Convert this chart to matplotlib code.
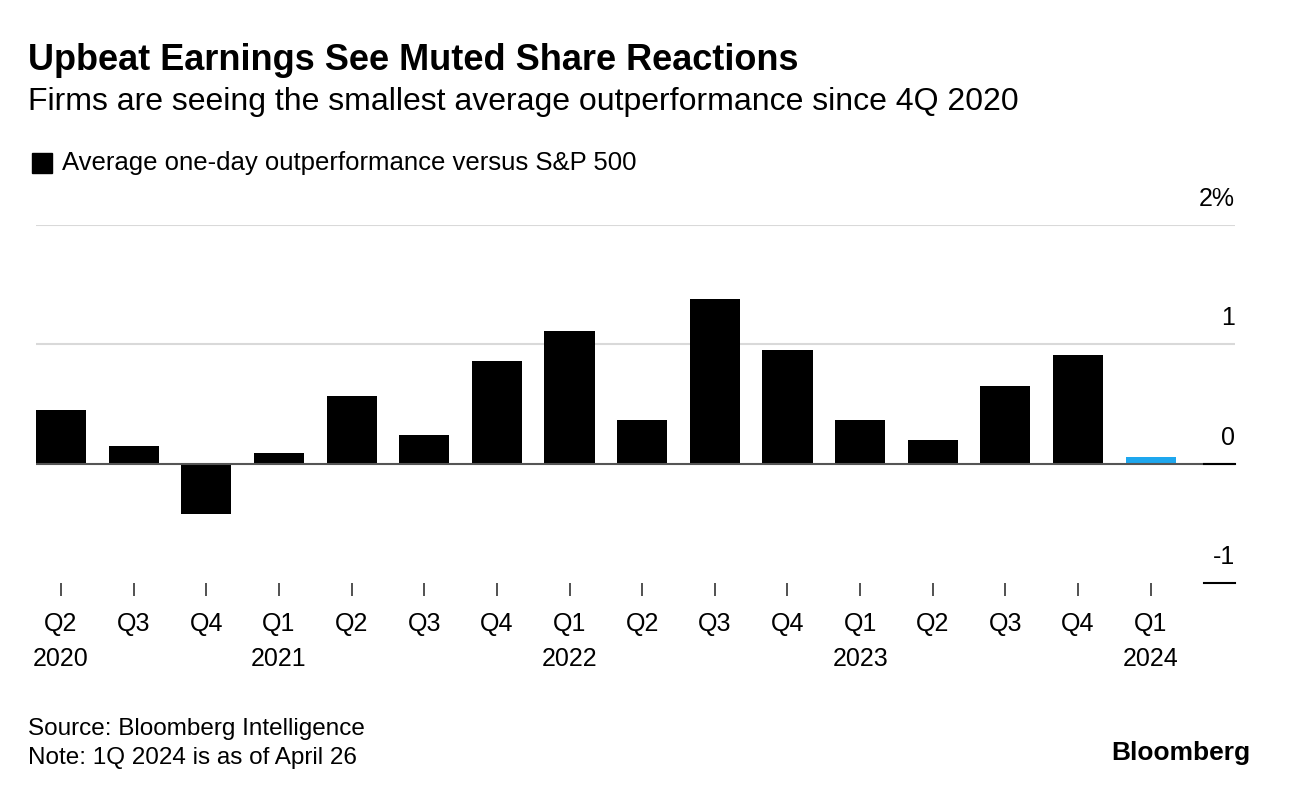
import numpy as np
import matplotlib.pyplot as plt
from matplotlib.patches import Rectangle

plt.rcParams['font.family'] = ['Liberation Sans', 'DejaVu Sans']

# data (percent)
quarters = ['Q2', 'Q3', 'Q4', 'Q1', 'Q2', 'Q3', 'Q4', 'Q1', 'Q2', 'Q3', 'Q4',
            'Q1', 'Q2', 'Q3', 'Q4', 'Q1']
years = ['2020', '', '', '2021', '', '', '', '2022', '', '', '',
         '2023', '', '', '', '2024']
outperf = [0.45, 0.15, -0.42, 0.09, 0.57, 0.24, 0.86, 1.11, 0.37, 1.38, 0.95,
           0.37, 0.20, 0.65, 0.91, 0.06]
colors = ['black'] * 15 + ['#1ea7ee']

fig = plt.figure(figsize=(12.89, 7.98), dpi=100)
ax = fig.add_axes([36/1289, 1 - 583/798, (1235-36)/1289, (583-225)/798])

x = np.arange(len(outperf))
ax.bar(x, outperf, width=0.69, color=colors, zorder=3)

ax.set_xlim(-0.344, 16.16)
ax.set_ylim(-1, 2)

# gridlines
for v in [1, 2]:
    ax.axhline(v, color='#d9d9d9', lw=1.5, zorder=1)
ax.axhline(0, color='#555555', lw=1.5, zorder=4)
ax.plot([15.74, 16.16], [0, 0], color='black', lw=1.5, zorder=5, clip_on=False)
ax.plot([15.74, 16.16], [-1, -1], color='black', lw=1.5, zorder=5, clip_on=False)

for s in ax.spines.values():
    s.set_visible(False)
ax.set_yticks([])
ax.set_xticks(x)
ax.set_xticklabels([q + '\n' + y for q, y in zip(quarters, years)],
                   fontsize=18, linespacing=1.55, va='top')
ax.tick_params(axis='x', length=9, width=1.2, color='#333333', pad=12)

# y labels on the right above the lines
ylabels = {2: '2%', 1: '1', 0: '0', -1: '-1'}
for v, t in ylabels.items():
    ax.annotate(t, xy=(1, v), xycoords=('axes fraction', 'data'),
                xytext=(0, 10), textcoords='offset points',
                ha='right', va='bottom', fontsize=18)

fig.text(28/1289, 1 - 61/798, 'Upbeat Earnings See Muted Share Reactions',
         fontsize=26, fontweight='bold', va='center')
fig.text(28/1289, 1 - 102/798,
         'Firms are seeing the smallest average outperformance since 4Q 2020',
         fontsize=23, va='center')
fig.patches.append(Rectangle((32/1289, 1 - 173/798), 20/1289, 20/798,
                             transform=fig.transFigure, color='black'))
fig.text(62/1289, 1 - 163/798, 'Average one-day outperformance versus S&P 500',
         fontsize=18.5, va='center')

fig.text(28/1289, 1 - 729/798, 'Source: Bloomberg Intelligence',
         fontsize=17.5, va='center')
fig.text(28/1289, 1 - 758/798, 'Note: 1Q 2024 is as of April 26',
         fontsize=17.5, va='center')
fig.text(1250/1289, 1 - 753/798, 'Bloomberg', fontsize=19, fontweight='bold',
         ha='right', va='center')

fig.savefig('out.png', dpi=100)
